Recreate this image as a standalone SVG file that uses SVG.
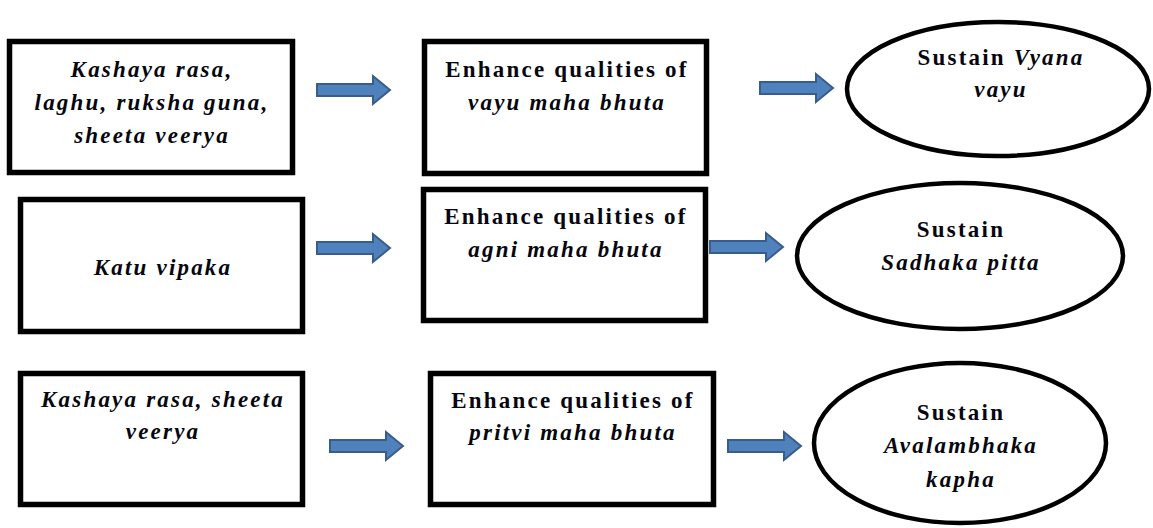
<svg xmlns="http://www.w3.org/2000/svg" xmlns:xlink="http://www.w3.org/1999/xlink" width="1153" height="528" viewBox="0 0 1153 528">
<style>
.box{fill:#fff;stroke:#000;stroke-width:5.5}
.ell{fill:#fff;stroke:#000;stroke-width:4.5}
text{font-family:"Liberation Serif","Times New Roman",serif;font-size:23px;font-weight:bold;fill:#06060f;text-anchor:middle;letter-spacing:2.2px}
.i{font-style:italic}
.arrow{fill:#4F81BD;stroke:#385D8A;stroke-width:2}
</style>
<defs>
<path id="arr" class="arrow" d="M0,-6 H56 V-14 L73,0 L56,14 V6 H0 Z"/>
</defs>
<rect width="1153" height="528" fill="#fff"/>
<g id="connectors">
<use xlink:href="#arr" transform="translate(317,90)"/>
<use xlink:href="#arr" transform="translate(760,88)"/>
<use xlink:href="#arr" transform="translate(317,248)"/>
<use xlink:href="#arr" transform="translate(710,247)"/>
<use xlink:href="#arr" transform="translate(330,446)"/>
<use xlink:href="#arr" transform="translate(728,446)"/>
</g>
<g id="n1">
<rect class="box" x="9.5" y="41.5" width="283" height="131"/>
<text class="i" x="152" y="77">Kashaya rasa,</text>
<text class="i" x="152" y="110">laghu, ruksha guna,</text>
<text class="i" x="152" y="143">sheeta veerya</text>
</g>
<g id="n2">
<rect class="box" x="424.5" y="41.5" width="282" height="132"/>
<text x="567" y="77">Enhance qualities of</text>
<text class="i" x="567" y="110">vayu maha bhuta</text>
</g>
<g id="n3">
<ellipse class="ell" cx="998" cy="89" rx="151" ry="67"/>
<text x="1001" y="65">Sustain <tspan class="i">Vyana</tspan></text>
<text class="i" x="1001" y="97">vayu</text>
</g>
<g id="n4">
<rect class="box" x="20.5" y="199.5" width="282" height="132"/>
<text class="i" x="163" y="275">Katu vipaka</text>
</g>
<g id="n5">
<rect class="box" x="423.5" y="189.5" width="282" height="131"/>
<text x="566" y="224">Enhance qualities of</text>
<text class="i" x="566" y="257">agni maha bhuta</text>
</g>
<g id="n6">
<ellipse class="ell" cx="960" cy="256" rx="163" ry="73"/>
<text x="961" y="237">Sustain</text>
<text class="i" x="961" y="270">Sadhaka pitta</text>
</g>
<g id="n7">
<rect class="box" x="20.5" y="373.5" width="282" height="131"/>
<text class="i" x="163" y="407">Kashaya rasa, sheeta</text>
<text class="i" x="163" y="439">veerya</text>
</g>
<g id="n8">
<rect class="box" x="430.5" y="373.5" width="283" height="131"/>
<text x="573" y="408">Enhance qualities of</text>
<text class="i" x="573" y="440">pritvi maha bhuta</text>
</g>
<g id="n9">
<ellipse class="ell" cx="960" cy="443" rx="146" ry="80"/>
<text x="961" y="420">Sustain</text>
<text class="i" x="961" y="453">Avalambhaka</text>
<text class="i" x="961" y="487">kapha</text>
</g>
</svg>
